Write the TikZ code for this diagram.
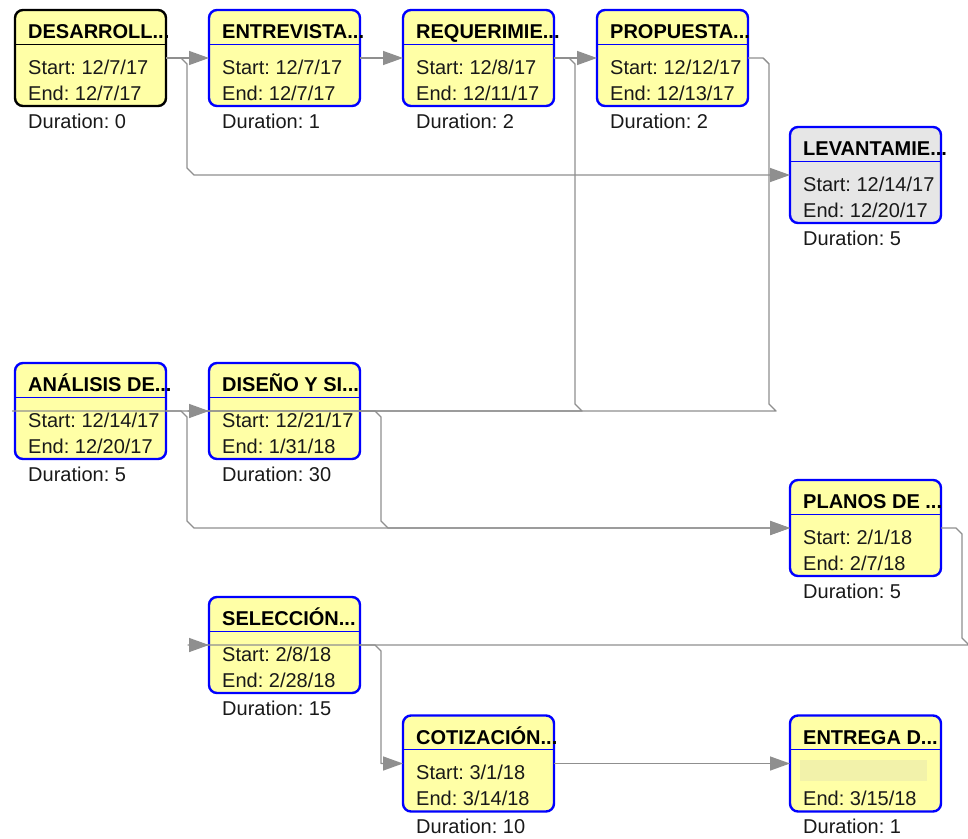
\documentclass[tikz,border=0pt]{standalone}
\usepackage{fontspec}
\setmainfont{Liberation Sans}
\usetikzlibrary{calc,arrows.meta}
\frenchspacing
\definecolor{boxyellow}{HTML}{FFFFA6}
\definecolor{boxgray}{HTML}{E6E6E6}
\definecolor{boxblue}{HTML}{0000FF}
\definecolor{linkgray}{HTML}{8F8F8F}
\definecolor{blankfill}{HTML}{F2F2AA}
\tikzset{
  taskbox/.style={rectangle, rounded corners=8pt, line width=2.4pt, minimum width=151pt,
    minimum height=96pt, inner sep=0pt, outer sep=0pt, anchor=north west},
  sepline/.style={line width=1pt},
  titletext/.style={font=\fontsize{20}{22}\selectfont\bfseries\frenchspacing, inner sep=0pt, anchor=base west, text=black},
  datatext/.style={font=\fontsize{20}{22}\selectfont\frenchspacing, inner sep=0pt, anchor=base west, text=black!90},
  deplink/.style={draw=linkgray, line width=1.4pt, line join=round},
  deparrow/.style={deplink, -{Triangle[length=20pt,width=14pt]}},
}
\newcommand{\pertnode}[9]{%
  \node[taskbox, fill=#8, draw=#9] (#1) at (#2,#3) {};
  \draw[sepline, draw=#9] ($(#1.north west)+(0,34)$) -- ($(#1.north east)+(0,34)$);
  \node[titletext] (#1-title) at ($(#1.north west)+(13,28.5)$) {#4};
  \node[datatext] (#1-start) at ($(#1.north west)+(13,64)$) {#5};
  \node[datatext] (#1-end) at ($(#1.north west)+(13,90)$) {#6};
  \node[datatext] (#1-dur) at ($(#1.north west)+(13,118)$) {#7};
  \coordinate (#1-in) at ($(#1.north west)+(0,48)$);
  \coordinate (#1-out) at ($(#1.north east)+(0,48)$);
}
\begin{document}
\begin{tikzpicture}[x=1pt, y=-1pt]
\fill[white] (0,0) rectangle (968,838);
\useasboundingbox (0,0) rectangle (968,838);

\pertnode{n1}{15}{10}{DESARROLL...}{Start: 12/7/17}{End: 12/7/17}{Duration: 0}{boxyellow}{black}
\pertnode{n2}{209}{10}{ENTREVISTA...}{Start: 12/7/17}{End: 12/7/17}{Duration: 1}{boxyellow}{boxblue}
\pertnode{n3}{403}{10}{REQUERIMIE...}{Start: 12/8/17}{End: 12/11/17}{Duration: 2}{boxyellow}{boxblue}
\pertnode{n4}{597}{10}{PROPUESTA...}{Start: 12/12/17}{End: 12/13/17}{Duration: 2}{boxyellow}{boxblue}
\pertnode{n5}{790}{127}{LEVANTAMIE...}{Start: 12/14/17}{End: 12/20/17}{Duration: 5}{boxgray}{boxblue}
\pertnode{n6}{15}{363}{ANÁLISIS DE...}{Start: 12/14/17}{End: 12/20/17}{Duration: 5}{boxyellow}{boxblue}
\pertnode{n7}{209}{363}{DISEÑO Y SI...}{Start: 12/21/17}{End: 1/31/18}{Duration: 30}{boxyellow}{boxblue}
\pertnode{n8}{790}{480}{PLANOS DE ...}{Start: 2/1/18}{End: 2/7/18}{Duration: 5}{boxyellow}{boxblue}
\pertnode{n9}{209}{597}{SELECCIÓN...}{Start: 2/8/18}{End: 2/28/18}{Duration: 15}{boxyellow}{boxblue}
\pertnode{n10}{403}{715.5}{COTIZACIÓN...}{Start: 3/1/18}{End: 3/14/18}{Duration: 10}{boxyellow}{boxblue}
\pertnode{n11}{790}{715.5}{ENTREGA D...}{}{End: 3/15/18}{Duration: 1}{boxyellow}{boxblue}
\fill[blankfill] ($(n11.north west)+(10,44.5)$) rectangle ($(n11.north west)+(137,65.5)$);

% connectors
\draw[deparrow] (n1-out) -- (n2-in);
\draw[deparrow] (n1-out) -- ++(15,0) -- ++(6,6) -- ($(n1-out |- n5-in)+(21,-7)$) -- ($(n1-out |- n5-in)+(28,0)$) -- (n5-in);
\draw[deparrow] (n2-out) -- (n3-in);
\draw[deparrow] (n3-out) -- (n4-in);
\draw[deparrow] (n3-out) -- ++(15,0) -- ++(6,6) -- ($(n3-out |- n7-in)+(21,-7)$) -- ($(n3-out |- n7-in)+(28,0)$) -- ($(n7-in)+(-21,0)$) -- (n7-in);
\draw[deplink] (n4-out) -- ++(15,0) -- ++(6,6) -- ($(n4-out |- n6-in)+(21,-7)$) -- ($(n4-out |- n6-in)+(28,0)$) -- ($(n6-in)+(-3,0)$);
\draw[deparrow] (n6-out) -- ++(15,0) -- ++(6,6) -- ($(n6-out |- n8-in)+(21,-7)$) -- ($(n6-out |- n8-in)+(28,0)$) -- (n8-in);
\draw[deparrow] (n7-out) -- ++(15,0) -- ++(6,6) -- ($(n7-out |- n8-in)+(21,-7)$) -- ($(n7-out |- n8-in)+(28,0)$) -- (n8-in);
\draw[deparrow] (n8-out) -- ++(15,0) -- ++(6,6) -- ($(n8-out |- n9-in)+(21,-7)$) -- ($(n8-out |- n9-in)+(28,0)$) -- ($(n9-in)+(-21,0)$) -- (n9-in);
\draw[deparrow] (n9-out) -- ++(15,0) -- ++(6,6) -- ($(n9-out |- n10-in)+(21,0)$) -- (n10-in);
\draw[deparrow] (n10-out) -- (n11-in);
\end{tikzpicture}
\end{document}
